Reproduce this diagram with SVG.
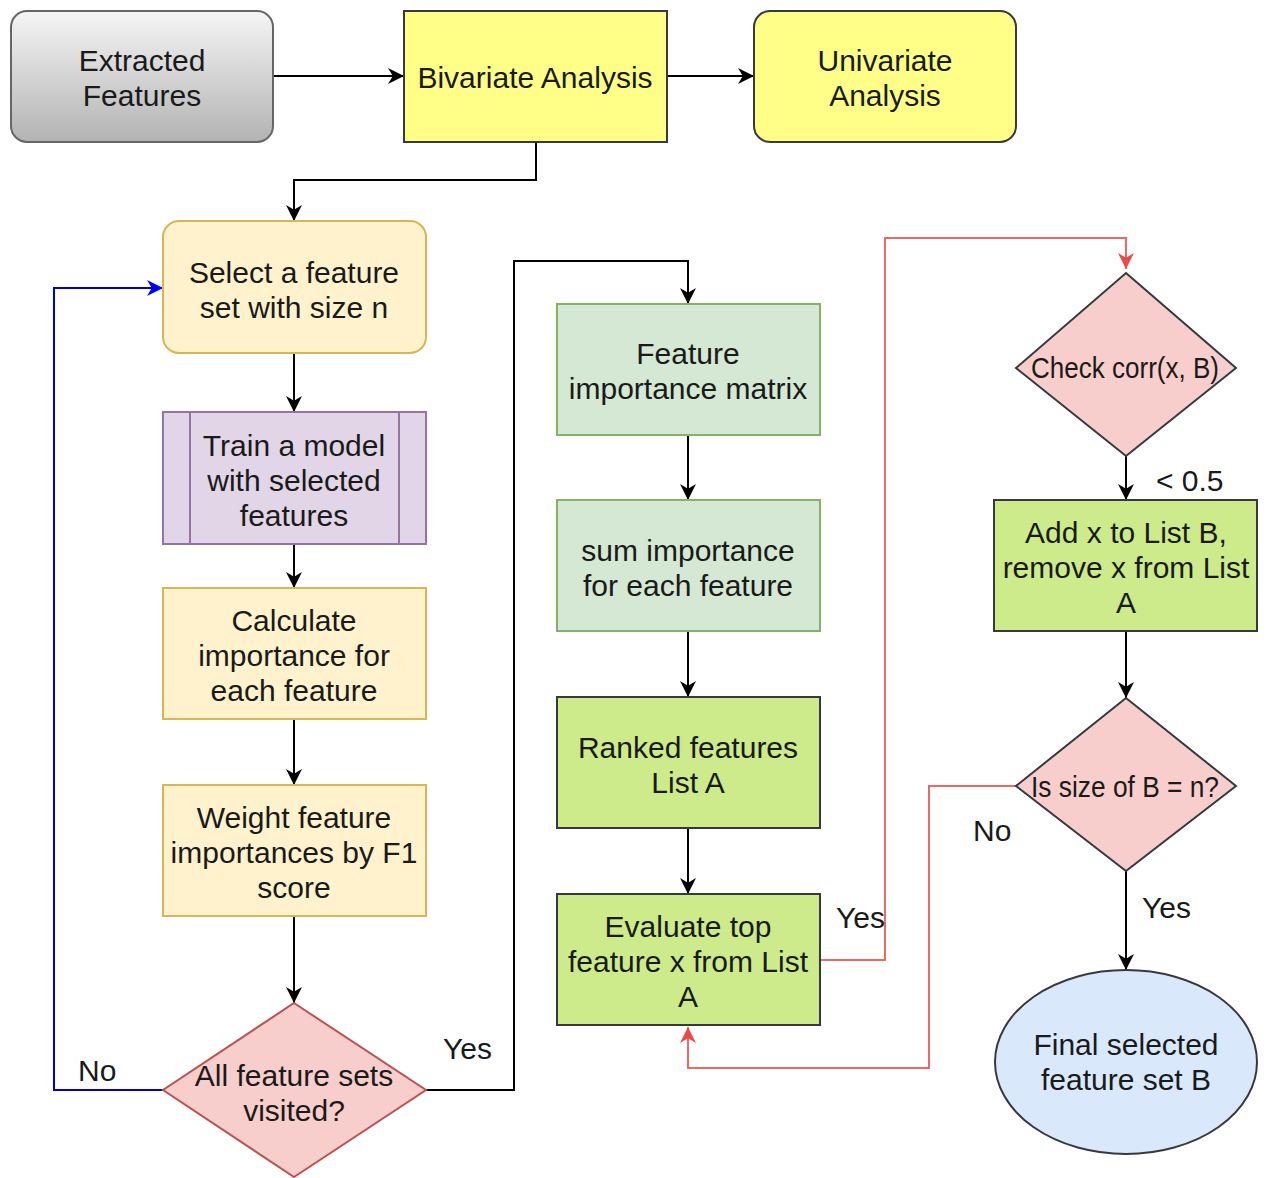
<svg xmlns="http://www.w3.org/2000/svg" width="1267" height="1178" viewBox="0 0 1267 1178">
<defs>
<linearGradient id="gray" x1="0" y1="0" x2="0" y2="1">
<stop offset="0" stop-color="#f5f5f5"/>
<stop offset="1" stop-color="#b3b3b3"/>
</linearGradient>
<marker id="ab" viewBox="0 0 10 10" refX="10" refY="5" markerWidth="16" markerHeight="16" orient="auto" markerUnits="userSpaceOnUse"><path d="M0,0 L10,5 L0,10 L3,5 Z" fill="#000"/></marker>
<marker id="ar" viewBox="0 0 10 10" refX="10" refY="5" markerWidth="16" markerHeight="16" orient="auto" markerUnits="userSpaceOnUse"><path d="M0,0 L10,5 L0,10 L3,5 Z" fill="#ea4b46"/></marker>
<marker id="au" viewBox="0 0 10 10" refX="10" refY="5" markerWidth="16" markerHeight="16" orient="auto" markerUnits="userSpaceOnUse"><path d="M0,0 L10,5 L0,10 L3,5 Z" fill="#0000ff"/></marker>
</defs>
<style>
text{font-family:"Liberation Sans",Arial,sans-serif;font-size:30px;fill:#1a1a1a;text-anchor:middle}
.lbl{text-anchor:start}
.k{fill:none;stroke:#000;stroke-width:2}
.r{fill:none;stroke:#ea6b66;stroke-width:2}
.b{fill:none;stroke:#0000cc;stroke-width:2}
.y{fill:#ffff88;stroke:#36393d;stroke-width:2}
.o{fill:#fff2cc;stroke:#d6b656;stroke-width:2}
.p{fill:#e1d5e7;stroke:#9673a6;stroke-width:2}
.g{fill:#d5e8d4;stroke:#82b366;stroke-width:2}
.lg{fill:#cdeb8b;stroke:#36393d;stroke-width:2}
.d{fill:#f8cecc;stroke:#b85450;stroke-width:2}
.dk{fill:#f8cecc;stroke:#36393d;stroke-width:2}
</style>
<rect width="1267" height="1178" fill="#fff"/>
<g id="connectors">
<path class="k" d="M273,76 H404" marker-end="url(#ab)"/>
<path class="k" d="M667,76 H754" marker-end="url(#ab)"/>
<path class="k" d="M536,142 V180 H294 V221" marker-end="url(#ab)"/>
<path class="k" d="M294,353 V412" marker-end="url(#ab)"/>
<path class="k" d="M294,544 V588" marker-end="url(#ab)"/>
<path class="k" d="M294,719 V785" marker-end="url(#ab)"/>
<path class="k" d="M294,916 V1003" marker-end="url(#ab)"/>
<path class="b" d="M163,1090 H54 V288 H163" marker-end="url(#au)"/>
<path class="k" d="M426,1090 H514 V261 H688 V304" marker-end="url(#ab)"/>
<path class="k" d="M688,435 V500" marker-end="url(#ab)"/>
<path class="k" d="M688,631 V697" marker-end="url(#ab)"/>
<path class="k" d="M688,828 V894" marker-end="url(#ab)"/>
<path class="r" d="M820,960 H885 V238 H1126 V269" marker-end="url(#ar)"/>
<path class="k" d="M1126,456 V500" marker-end="url(#ab)"/>
<path class="k" d="M1126,631 V698" marker-end="url(#ab)"/>
<path class="r" d="M1016,786 H929 V1068 H688 V1027" marker-end="url(#ar)"/>
<path class="k" d="M1126,871 V970" marker-end="url(#ab)"/>
<text class="lbl" x="78" y="1081">No</text>
<text class="lbl" x="443" y="1059">Yes</text>
<text class="lbl" x="836" y="928">Yes</text>
<text class="lbl" x="1156" y="491">&lt; 0.5</text>
<text class="lbl" x="973" y="841">No</text>
<text class="lbl" x="1142" y="918">Yes</text>
</g>
<g id="extracted">
<rect x="11" y="11" width="262" height="131" rx="16" fill="url(#gray)" stroke="#666" stroke-width="2"/>
<text x="142" y="71">Extracted</text><text x="142" y="106">Features</text>
</g>
<g id="bivariate">
<rect class="y" x="404" y="11" width="263" height="131"/>
<text x="535" y="88">Bivariate Analysis</text>
</g>
<g id="univariate">
<rect class="y" x="754" y="11" width="262" height="131" rx="16"/>
<text x="885" y="71">Univariate</text><text x="885" y="106">Analysis</text>
</g>
<g id="select">
<rect class="o" x="163" y="221" width="263" height="132" rx="16"/>
<text x="294" y="283">Select a feature</text><text x="294" y="318">set with size n</text>
</g>
<g id="train">
<rect class="p" x="163" y="412" width="263" height="132"/>
<path d="M190,412 V544 M399,412 V544" stroke="#9673a6" stroke-width="2"/>
<text x="294" y="456">Train a model</text><text x="294" y="491">with selected</text><text x="294" y="526">features</text>
</g>
<g id="calculate">
<rect class="o" x="163" y="588" width="263" height="131"/>
<text x="294" y="631">Calculate</text><text x="294" y="666">importance for</text><text x="294" y="701">each feature</text>
</g>
<g id="weight">
<rect class="o" x="163" y="785" width="263" height="131"/>
<text x="294" y="828">Weight feature</text><text x="294" y="863">importances by F1</text><text x="294" y="898">score</text>
</g>
<g id="allvisited">
<polygon class="d" points="294,1003 426,1090 294,1177 163,1090"/>
<text x="294" y="1086">All feature sets</text><text x="294" y="1121">visited?</text>
</g>
<g id="matrix">
<rect class="g" x="557" y="304" width="263" height="131"/>
<text x="688" y="364">Feature</text><text x="688" y="399">importance matrix</text>
</g>
<g id="sum">
<rect class="g" x="557" y="500" width="263" height="131"/>
<text x="688" y="561">sum importance</text><text x="688" y="596">for each feature</text>
</g>
<g id="ranked">
<rect class="lg" x="557" y="697" width="263" height="131"/>
<text x="688" y="758">Ranked features</text><text x="688" y="793">List A</text>
</g>
<g id="evaluate">
<rect class="lg" x="557" y="894" width="263" height="131"/>
<text x="688" y="937">Evaluate top</text><text x="688" y="972">feature x from List</text><text x="688" y="1007">A</text>
</g>
<g id="checkcorr">
<polygon class="dk" points="1126,273 1236,368 1126,456 1016,368"/>
<text x="1125" y="378" textLength="188" lengthAdjust="spacingAndGlyphs">Check corr(x, B)</text>
</g>
<g id="addx">
<rect class="lg" x="994" y="500" width="263" height="131"/>
<text x="1126" y="543">Add x to List B,</text><text x="1126" y="578">remove x from List</text><text x="1126" y="613">A</text>
</g>
<g id="issize">
<polygon class="dk" points="1126,698 1236,786 1126,871 1016,786"/>
<text x="1125" y="797" textLength="188" lengthAdjust="spacingAndGlyphs">Is size of B = n?</text>
</g>
<g id="final">
<ellipse cx="1126" cy="1062" rx="131" ry="92" fill="#dae8fc" stroke="#36393d" stroke-width="2"/>
<text x="1126" y="1055">Final selected</text><text x="1126" y="1090">feature set B</text>
</g>
</svg>
